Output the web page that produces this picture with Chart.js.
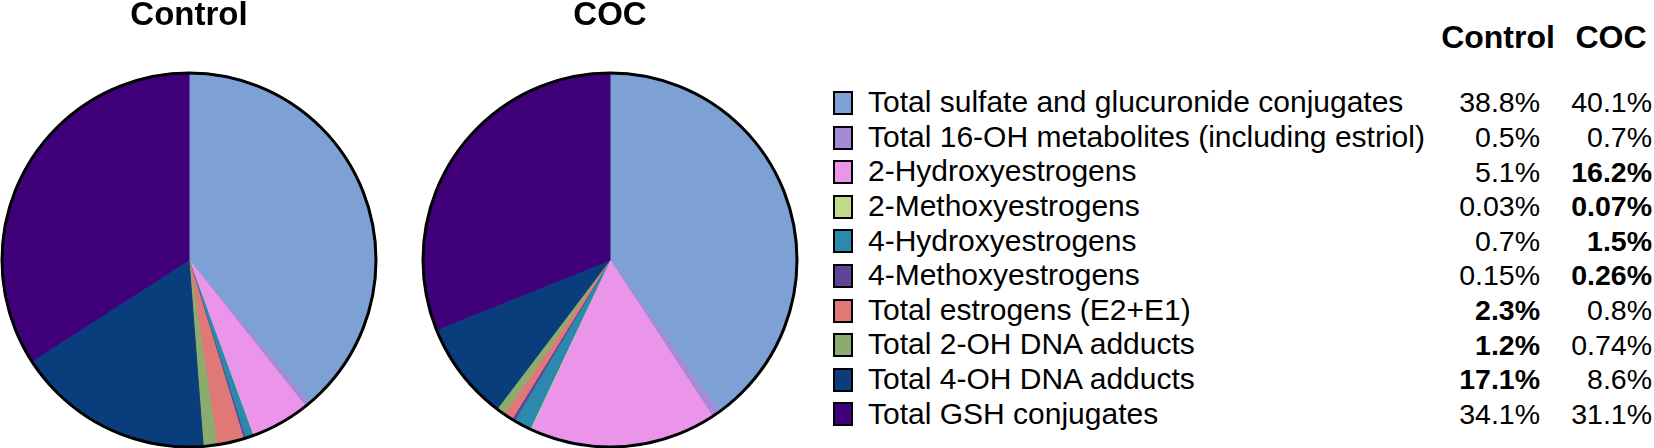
<!DOCTYPE html>
<html>
<head>
<meta charset="utf-8">
<script src="https://cdn.jsdelivr.net/npm/chart.js@4.4.0/dist/chart.umd.min.js"></script>
<style>
  html, body { margin:0; padding:0; background:#fff; }
  body { width:1654px; height:448px; position:relative; overflow:hidden; font-family:"Liberation Sans", Arial, sans-serif; color:#000; }
  canvas { position:absolute; top:0; }
  .abs { position:absolute; white-space:nowrap; line-height:1; }
  .box { position:absolute; width:16px; height:20px; border:2.5px solid #000; }
</style>
</head>
<body>
<canvas id="pieControl" width="378" height="448" style="left:0px"></canvas>
<canvas id="pieCOC" width="378" height="448" style="left:421px"></canvas>
<div id="legend"></div>
<script>
// ---- data ----
const categories = [
  "Total sulfate and glucuronide conjugates",
  "Total 16-OH metabolites (including estriol)",
  "2-Hydroxyestrogens",
  "2-Methoxyestrogens",
  "4-Hydroxyestrogens",
  "4-Methoxyestrogens",
  "Total estrogens (E2+E1)",
  "Total 2-OH DNA adducts",
  "Total 4-OH DNA adducts",
  "Total GSH conjugates"
];
const groupNames = ["Control", "COC"];
const controlValues = [38.8, 0.5, 5.1, 0.03, 0.7, 0.15, 2.3, 1.2, 17.1, 34.1];
const cocValues     = [40.1, 0.7, 16.2, 0.07, 1.5, 0.26, 0.8, 0.74, 8.6, 31.1];
const controlHighlighted = [false, false, false, false, false, false, true, true, true, false];
const cocHighlighted     = [false, false, true, true, true, true, false, false, false, false];
const sliceColors = ["#7DA1D5", "#A58AD6", "#EA95E9", "#BEDC8A", "#2A89AD", "#60449A", "#E07878", "#8DAA6F", "#0A3D7B", "#3F0079"];

// ---- outline plugin: black ring around each pie ----
const outlinePlugin = {
  id: 'outline',
  afterDatasetsDraw(chart) {
    const arc = chart.getDatasetMeta(0).data[0];
    if (!arc) return;
    const ctx = chart.ctx;
    ctx.save();
    ctx.beginPath();
    ctx.arc(arc.x, arc.y, arc.outerRadius - 0.5, 0, Math.PI * 2);
    ctx.lineWidth = 3;
    ctx.strokeStyle = '#000';
    ctx.stroke();
    ctx.restore();
  }
};

function makePie(id, title, values) {
  new Chart(document.getElementById(id), {
    type: 'pie',
    data: {
      labels: categories,
      datasets: [{
        data: values,
        backgroundColor: sliceColors,
        borderColor: sliceColors,
        borderWidth: 1,
        hoverOffset: 0
      }]
    },
    options: {
      responsive: false,
      animation: false,
      layout: { padding: 0 },
      plugins: {
        legend: { display: false },
        tooltip: { enabled: false },
        title: {
          display: true,
          text: title,
          color: '#000',
          font: { family: '"Liberation Sans", Arial, sans-serif', size: 33, weight: 'bold', lineHeight: 0.9 },
          padding: { top: 1.5, bottom: 40.8 }
        }
      }
    },
    plugins: [outlinePlugin]
  });
}
makePie('pieControl', groupNames[0], controlValues);
makePie('pieCOC', groupNames[1], cocValues);

// ---- legend table built from the arrays ----
const legend = document.getElementById('legend');
const LF = 30, VF = 28.5, HF = 32;
function addText(txt, x, baseline, size, bold, align) {
  const d = document.createElement('div');
  d.className = 'abs';
  d.textContent = txt;
  d.style.fontSize = size + 'px';
  d.style.fontWeight = bold ? 'bold' : 'normal';
  d.style.top = (baseline - 0.8465 * size) + 'px';
  if (align === 'right') { d.style.right = (1654 - x) + 'px'; }
  else if (align === 'center') { d.style.left = x + 'px'; d.style.transform = 'translateX(-50%)'; }
  else { d.style.left = x + 'px'; }
  legend.appendChild(d);
}
addText(groupNames[0], 1498, 48, HF, true, 'center');
addText(groupNames[1], 1611, 48, HF, true, 'center');
categories.forEach((c, i) => {
  const baseline = 112.5 + 34.6 * i;
  const b = document.createElement('div');
  b.className = 'box';
  b.style.left = '833px';
  b.style.top = (baseline - 21.5) + 'px';
  b.style.background = sliceColors[i];
  legend.appendChild(b);
  addText(c, 868, baseline, LF, false, 'left');
  addText(controlValues[i] + '%', 1540, baseline, VF, controlHighlighted[i], 'right');
  addText(cocValues[i] + '%', 1652, baseline, VF, cocHighlighted[i], 'right');
});
</script>
</body>
</html>
